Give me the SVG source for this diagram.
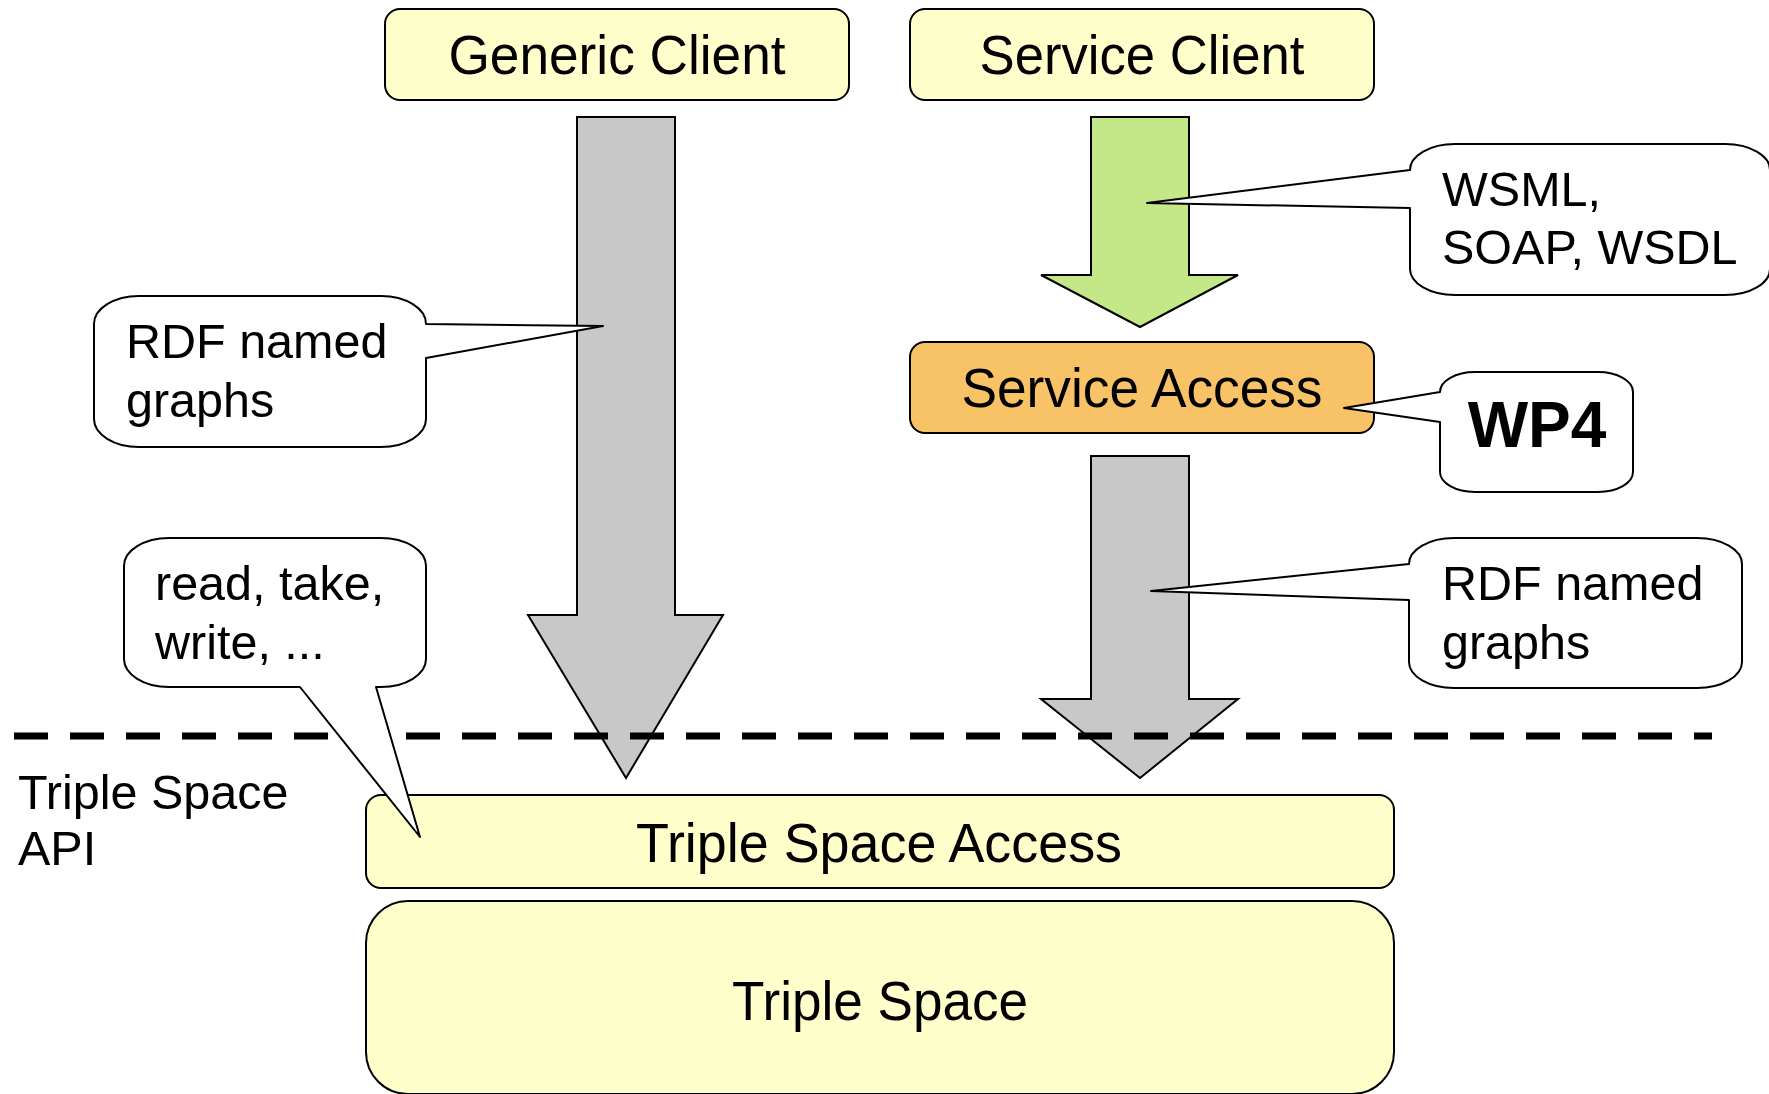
<svg xmlns="http://www.w3.org/2000/svg" width="1769" height="1094" viewBox="0 0 1769 1094">
  <style>
    .box { stroke: #000; stroke-width: 2; }
    .yellow { fill: #FFFFCC; }
    .orange { fill: #F8C266; }
    .arrow { stroke: #000; stroke-width: 2; stroke-linejoin: miter; }
    .grey { fill: #C8C8C8; }
    .green { fill: #C4E787; }
    .callout { fill: #FFFFFF; stroke: #000; stroke-width: 2; stroke-linejoin: round; }
    .label { font-family: "Liberation Sans", Arial, sans-serif; font-size: 56px; fill: #000; text-anchor: middle; }
    .note { font-family: "Liberation Sans", Arial, sans-serif; font-size: 48.5px; fill: #000; }
    .bold { font-family: "Liberation Sans", Arial, sans-serif; font-size: 64px; font-weight: bold; fill: #000; text-anchor: middle; }
    .divider { stroke: #000; stroke-width: 7; stroke-dasharray: 34 22; fill: none; }
  </style>

  <!-- component boxes -->
  <g id="generic-client">
    <rect class="box yellow" x="385" y="9" width="464" height="91" rx="15" ry="15"/>
    <text class="label" x="617" y="74" textLength="337" lengthAdjust="spacingAndGlyphs">Generic Client</text>
  </g>
  <g id="service-client">
    <rect class="box yellow" x="910" y="9" width="464" height="91" rx="15" ry="15"/>
    <text class="label" x="1142" y="74" textLength="325" lengthAdjust="spacingAndGlyphs">Service Client</text>
  </g>
  <g id="service-access">
    <rect class="box orange" x="910" y="342" width="464" height="91" rx="15" ry="15"/>
    <text class="label" x="1142" y="407" textLength="361" lengthAdjust="spacingAndGlyphs">Service Access</text>
  </g>
  <g id="triple-space-access">
    <rect class="box yellow" x="366" y="795" width="1028" height="93" rx="15" ry="15"/>
    <text class="label" x="879" y="862" textLength="486" lengthAdjust="spacingAndGlyphs">Triple Space Access</text>
  </g>
  <g id="triple-space">
    <rect class="box yellow" x="366" y="901" width="1028" height="193" rx="42" ry="42"/>
    <text class="label" x="880" y="1020" textLength="296" lengthAdjust="spacingAndGlyphs">Triple Space</text>
  </g>

  <!-- block arrows between layers -->
  <g id="connectors">
    <polygon class="arrow grey" points="577,117 675,117 675,615 723,615 626,778 528,615 577,615"/>
    <polygon class="arrow green" points="1091,117 1189,117 1189,275 1238,275 1140,327 1041,275 1091,275"/>
    <polygon class="arrow grey" points="1091,456 1189,456 1189,699 1238,699 1140,778 1041,699 1091,699"/>
  </g>

  <!-- API boundary -->
  <g id="api-boundary">
    <line class="divider" x1="14" y1="736" x2="1712" y2="736"/>
    <text class="note" x="18" y="809">Triple Space</text>
    <text class="note" x="18" y="865">API</text>
  </g>

  <!-- speech-bubble annotations -->
  <g id="note-rdf-left">
    <path class="callout" d="M139,296 H381 A45,28 0 0 1 426,324 L603,326 L426,358 V419 A45,28 0 0 1 381,447 H139 A45,28 0 0 1 94,419 V324 A45,28 0 0 1 139,296 Z"/>
    <text class="note" x="126" y="358">RDF named</text>
    <text class="note" x="126" y="417">graphs</text>
  </g>
  <g id="note-wsml">
    <path class="callout" d="M1455,144 H1725 A45,26 0 0 1 1770,170 V269 A45,26 0 0 1 1725,295 H1455 A45,26 0 0 1 1410,269 V208 L1147,203 L1410,170 A45,26 0 0 1 1455,144 Z"/>
    <text class="note" x="1442" y="206">WSML,</text>
    <text class="note" x="1442" y="264">SOAP, WSDL</text>
  </g>
  <g id="note-wp4">
    <path class="callout" d="M1475,372 H1598 A35,20 0 0 1 1633,392 V472 A35,20 0 0 1 1598,492 H1475 A35,20 0 0 1 1440,472 V422 L1344,408 L1440,392 A35,20 0 0 1 1475,372 Z"/>
    <text class="bold" x="1537" y="447">WP4</text>
  </g>
  <g id="note-rdf-right">
    <path class="callout" d="M1454,538 H1697 A45,26 0 0 1 1742,564 V662 A45,26 0 0 1 1697,688 H1454 A45,26 0 0 1 1409,662 V600 L1151,591 L1409,564 A45,26 0 0 1 1454,538 Z"/>
    <text class="note" x="1442" y="600">RDF named</text>
    <text class="note" x="1442" y="659">graphs</text>
  </g>
  <g id="note-operations">
    <path class="callout" d="M169,538 H381 A45,28 0 0 1 426,566 V659 A45,28 0 0 1 381,687 H376 L420,837 L300,687 H169 A45,28 0 0 1 124,659 V566 A45,28 0 0 1 169,538 Z"/>
    <text class="note" x="155" y="600">read, take,</text>
    <text class="note" x="155" y="659">write, ...</text>
  </g>
</svg>
